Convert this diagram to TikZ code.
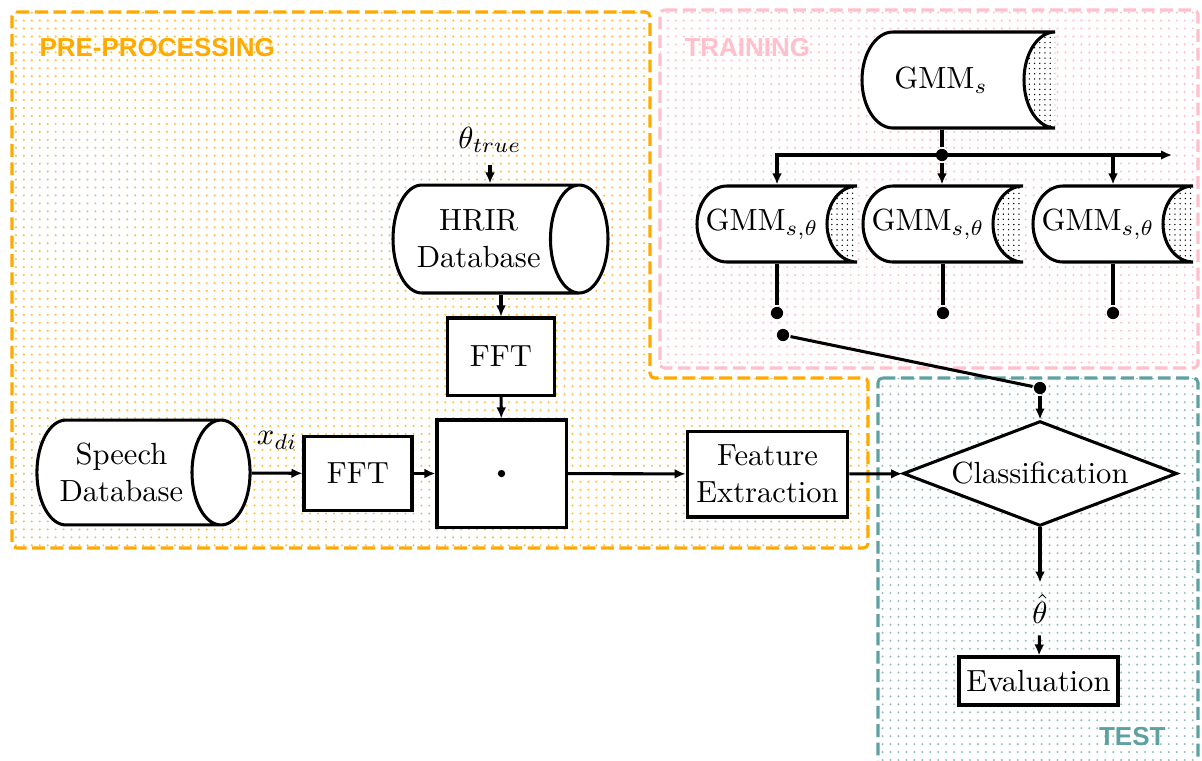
\documentclass[tikz,border=0pt]{standalone}
\usepackage{fontspec}
\usepackage{amsmath}
\usepackage{tikz}
\newfontfamily\regionfont{Liberation Sans}
\definecolor{pporange}{RGB}{255,170,0}
\definecolor{trpink}{RGB}{255,192,203}
\definecolor{tsteal}{RGB}{95,160,160}
\usetikzlibrary{shapes.geometric}
\usetikzlibrary{patterns.meta}
\usetikzlibrary{arrows.meta}
\usetikzlibrary{calc}

% stored data shape: left, top, right, bottom (px), end radius (px)
\newcommand{\storedshape}[5]{%
	\fill [white] (#1+#5,#2) -- (#3,#2) -- (#3,#4) -- (#1+#5,#4) arc [start angle=270, end angle=90, x radius={#5*0.327pt}, y radius={(#4-#2)*0.1635pt}] -- cycle;
	\fill [pattern={Dots[distance=1.7pt, radius=0.25pt]}, pattern color=black] (#3,#2) arc [start angle=90, end angle=270, x radius={#5*0.327pt}, y radius={(#4-#2)*0.1635pt}] -- cycle;
	\draw (#1+#5,#2) -- (#3,#2) arc [start angle=90, end angle=270, x radius={#5*0.327pt}, y radius={(#4-#2)*0.1635pt}] -- (#1+#5,#4) arc [start angle=270, end angle=90, x radius={#5*0.327pt}, y radius={(#4-#2)*0.1635pt}] -- cycle;
}

\begin{document}
\begin{tikzpicture}
			[x=0.327pt, y=-0.327pt, line width=1pt, >={Latex[length=3.6pt, width=3.2pt]},
			box/.style={draw, fill=white, inner sep=2pt, align=center},
			dbase/.style={draw, fill=white, shape=cylinder, shape aspect=0.82, inner sep=2pt, align=center},
			decision/.style={draw, fill=white, diamond, aspect=2.6, inner sep=1pt, minimum width=89.6pt, minimum height=34.3pt},
			dot/.style={circle, fill=black, inner sep=0pt, minimum size=4pt},
			region/.style={dash pattern=on 4.2pt off 1.8pt, rounded corners=1.5pt},
			regionlabel/.style={font=\regionfont\bfseries\fontsize{8.5}{10}\selectfont, inner sep=0pt}]
	\useasboundingbox [fill=white] (0,0) rectangle (1202,760);
	% regions
	\draw [region, draw=pporange, pattern={Dots[distance=2.6pt, radius=0.38pt]}, pattern color=pporange!75] (12,12) -- (650,12) -- (650,378) -- (868,378) -- (868,548) -- (12,548) -- cycle;
	\draw [region, draw=trpink, pattern={Dots[distance=2.6pt, radius=0.38pt]}, pattern color=trpink] (660,10) -- (1198,10) -- (1198,368) -- (660,368) -- cycle;
	\draw [region, draw=tsteal, pattern={Dots[distance=2.6pt, radius=0.38pt]}, pattern color=tsteal!65] (878,378) -- (1198,378) -- (1198,766) -- (878,766) -- cycle;
	\node (ppl) [regionlabel, text=pporange, anchor=west] at (38,48) {PRE-PROCESSING};
	\node (trl) [regionlabel, text=trpink, anchor=west] at (683,48) {TRAINING};
	\node (tsl) [regionlabel, text=tsteal, anchor=east] at (1167,737) {TEST};
	% pre-processing
	\node (speech) [dbase, minimum width=34.3pt, minimum height=69.7pt, anchor=shape center] at (143.5,472.5) {Speech\\Database};
	\node (hrir) [dbase, minimum width=35.3pt, minimum height=70.3pt, anchor=shape center] at (500.5,239) {HRIR\\Database};
	\node (theta) at (490,140) {$\theta_{true}$};
	\node (fft1) [box, minimum width=35pt, minimum height=25.2pt] at (501,356.5) {FFT};
	\node (fft2) [box, minimum width=35.3pt, minimum height=24pt] at (358,473.5) {FFT};
	\node (mult) [box, minimum width=42.2pt, minimum height=35pt] at (501.5,473.5) {};
	\fill (mult.center) circle (1.2pt);
	\node (feat) [box, minimum width=52.6pt, minimum height=28.1pt] at (767.5,474) {Feature\\Extraction};
	% test
	\node (class) [decision] at (1040,473.5) {Classification};
	\node (thetahat) at (1040,609) {$\hat{\theta}$};
	\node (eval) [box, minimum width=52pt, minimum height=15.7pt] at (1038.5,681) {Evaluation};
	% training
	\storedshape{862}{32}{1055}{128}{31}
	\node (gmms) [minimum height=31.4pt, inner sep=0pt] at (941,80) {GMM$_s$};
	\storedshape{697}{186}{857}{262}{30}
	\node (gmm1) [minimum height=24.85pt, inner sep=0pt] at (762,224) {GMM$_{s,\theta}$};
	\storedshape{863}{186}{1023}{262}{30}
	\node (gmm2) [minimum height=24.85pt, inner sep=0pt] at (928,224) {GMM$_{s,\theta}$};
	\storedshape{1033}{186}{1193}{262}{30}
	\node (gmm3) [minimum height=24.85pt, inner sep=0pt] at (1098,224) {GMM$_{s,\theta}$};
	\node (jt) [dot] at (942,155) {};
	\node (d1) [dot] at (777,313) {};
	\node (d2) [dot] at (943,313) {};
	\node (d3) [dot] at (1113,313) {};
	\node (d4) [dot] at (783,335) {};
	\node (jc) [dot] at (1040,388) {};
	\coordinate (trend) at (1172,155);
	% connectors
	\draw (jt |- gmms.south) to (jt);
	\draw [->] (jt.center) -| (d1 |- gmm1.north);
	\draw [->] (jt) to (jt |- gmm2.north);
	\draw [->] (jt.center) to (trend);
	\draw [->] (d3 |- trend) to (d3 |- gmm3.north);
	\draw (d1 |- gmm1.south) to (d1);
	\draw (d2 |- gmm2.south) to (d2);
	\draw (d3 |- gmm3.south) to (d3);
	\draw (d4) to (jc);
	\draw [->] (jc) to (class);
	\draw [->] (theta) to (theta |- hrir.north);
	\draw [->] (fft1 |- hrir.south) to (fft1);
	\draw [->] (fft1) to (mult);
	\draw [->] (speech) to node [above=4pt] (xdi) {$x_{di}$} (fft2);
	\draw [->] (fft2) to (mult);
	\draw [->] (mult) to (feat);
	\draw [->] (feat) to (class);
	\draw [->] (class) to (thetahat);
	\draw [->] (thetahat) to (eval);
\end{tikzpicture}
\end{document}
